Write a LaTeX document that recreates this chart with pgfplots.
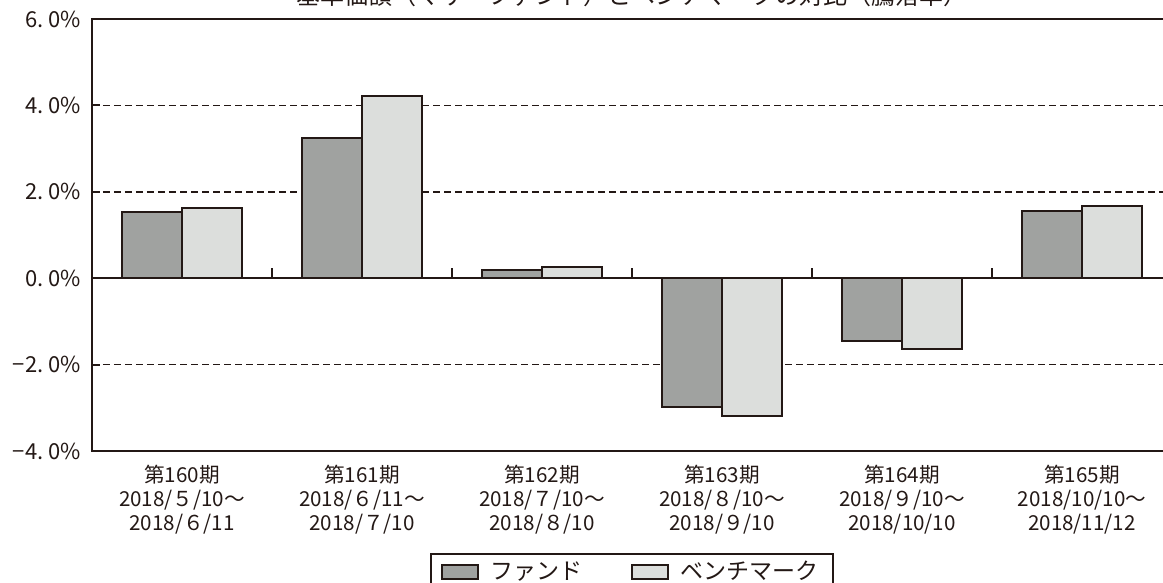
\documentclass[border=0pt]{standalone}
\usepackage{fontspec}
\setmainfont{Noto Sans CJK JP}
\usepackage{pgfplots}
\pgfplotsset{compat=1.18}
\definecolor{ink}{HTML}{231815}
\definecolor{fundc}{HTML}{A0A2A0}
\definecolor{benchc}{HTML}{DCDEDC}
\begin{document}
\begin{tikzpicture}
\begin{axis}[
  at={(46pt,66pt)}, anchor=south west,
  scale only axis, width=540pt, height=216pt,
  xmin=-0.5, xmax=5.5, ymin=-4, ymax=6,
  axis line style={ink, line width=1pt},
  ybar=0pt, bar width=30pt,
  ytick={-4,-2,0,2,4,6},
  yticklabels={−4.\hspace{2.5pt}0\%, −2.\hspace{2.5pt}0\%, 0.\hspace{2.5pt}0\%, 2.\hspace{2.5pt}0\%, 4.\hspace{2.5pt}0\%, 6.\hspace{2.5pt}0\%},
  yticklabel style={font=\fontsize{11}{12}\selectfont, text=ink, xshift=-2pt},
  xtick={0,1,2,3,4,5},
  xticklabels={
    {第160期\\2018/５/10～\\2018/６/11},
    {第161期\\2018/６/11～\\2018/７/10},
    {第162期\\2018/７/10～\\2018/８/10},
    {第163期\\2018/８/10～\\2018/９/10},
    {第164期\\2018/９/10～\\2018/10/10},
    {第165期\\2018/10/10～\\2018/11/12}},
  xticklabel style={align=center, font=\fontsize{10.3}{12}\selectfont, text=ink, yshift=-3.5pt},
  major x tick style={draw=none},
  tick align=inside,
  major tick length=4pt,
  ytick style={ink, line width=1pt},
  ymajorgrids,
  grid style={ink, line width=0.8pt, dash pattern=on 3.5pt off 2pt},
  legend style={at={(0.5,-0.236)}, anchor=north, draw=ink, line width=1pt,
    font=\fontsize{11.5}{12}\selectfont, text=ink,
    inner xsep=5pt, inner ysep=1.5pt,
    /tikz/every even column/.append style={column sep=22pt}},
  legend columns=2,
  legend image code/.code={\draw[#1] (0pt,-3.5pt) rectangle (18pt,3.5pt); \path (22pt,0pt);},
  clip=false,
]
\addplot[fill=fundc, draw=ink, line width=1pt] coordinates {(0,1.53) (1,3.24) (2,0.18) (3,-2.99) (4,-1.46) (5,1.55)};
\addplot[fill=benchc, draw=ink, line width=1pt] coordinates {(0,1.62) (1,4.21) (2,0.27) (3,-3.20) (4,-1.64) (5,1.67)};
\legend{ファンド, ベンチマーク}
\draw[ink, line width=1pt] (axis cs:-0.5,0) -- (axis cs:5.5,0);
\draw[ink, line width=1pt] (axis cs:0.5,0) -- (axis cs:0.5,0.23);
\draw[ink, line width=1pt] (axis cs:1.5,0) -- (axis cs:1.5,0.23);
\draw[ink, line width=1pt] (axis cs:2.5,0) -- (axis cs:2.5,0.23);
\draw[ink, line width=1pt] (axis cs:3.5,0) -- (axis cs:3.5,0.23);
\draw[ink, line width=1pt] (axis cs:4.5,0) -- (axis cs:4.5,0.23);
\node[anchor=base, inner sep=0, font=\fontsize{12}{14}\selectfont, text=ink] at ([yshift=7pt]rel axis cs:0.5,1) {基準価額（マザーファンド）とベンチマークの対比（騰落率）};
\end{axis}
\pgfresetboundingbox
\path (0,0) rectangle (581.5pt,291.5pt);
\end{tikzpicture}
\end{document}
